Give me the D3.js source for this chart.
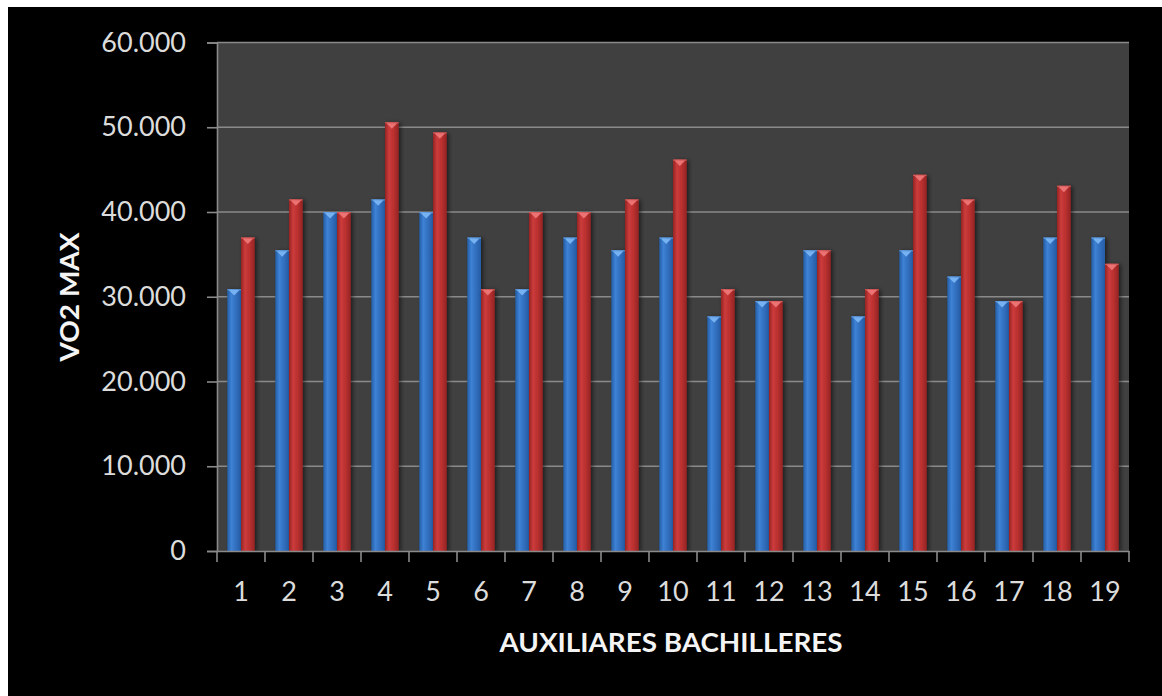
<!DOCTYPE html>
<html>
<head>
<meta charset="utf-8">
<script src="https://cdn.jsdelivr.net/npm/d3@7"></script>
<style>
  html, body { margin: 0; padding: 0; background: #ffffff; }
  svg { display: block; }
</style>
</head>
<body>
<svg id="chart" width="1162" height="696"></svg>
<script>
// Participants 1..19 and the two VO2 max measurements per participant
const categories = ["1","2","3","4","5","6","7","8","9","10","11","12","13","14","15","16","17","18","19"];
const seriesNames = ["Medición 1", "Medición 2"];
const serie1 = [30.9, 35.5, 40.0, 41.5, 40.0, 37.0, 30.9, 37.0, 35.5, 37.0, 27.7, 29.5, 35.5, 27.7, 35.5, 32.4, 29.5, 37.0, 37.0];
const serie2 = [37.0, 41.5, 40.0, 50.6, 49.4, 30.9, 40.0, 40.0, 41.5, 46.2, 30.9, 29.5, 35.5, 30.9, 44.4, 41.5, 29.5, 43.1, 33.9];
const yTicks = [0, 10, 20, 30, 40, 50, 60];
const yTitle = "VO2 MAX";
const xTitle = "AUXILIARES BACHILLERES";

const svg = d3.select("#chart");
const W = 1162, H = 696;
const plot = { left: 217, right: 1129, top: 42.5, bottom: 551 };
const font = "Lato, 'Open Sans', sans-serif";

// black chart canvas
svg.append("rect").attr("x", 8).attr("y", 7).attr("width", W - 8).attr("height", H - 7).attr("fill", "#000");

const defs = svg.append("defs");
function barGradient(id, edge, mid, light) {
  const g = defs.append("linearGradient").attr("id", id).attr("x1", 0).attr("x2", 1).attr("y1", 0).attr("y2", 0);
  g.append("stop").attr("offset", "0%").attr("stop-color", edge);
  g.append("stop").attr("offset", "30%").attr("stop-color", light);
  g.append("stop").attr("offset", "60%").attr("stop-color", mid);
  g.append("stop").attr("offset", "100%").attr("stop-color", edge);
}
barGradient("gBlue", "#255ea6", "#336fc0", "#3f82d4");
barGradient("gRed", "#962424", "#bc3030", "#cc3b3b");
const shadow = defs.append("filter").attr("id", "shadow").attr("x", "-50%").attr("y", "-10%").attr("width", "200%").attr("height", "120%");
shadow.append("feDropShadow").attr("dx", 2).attr("dy", 1).attr("stdDeviation", 2)
  .attr("flood-color", "#000").attr("flood-opacity", 0.55);

// plot area
svg.append("rect").attr("x", plot.left).attr("y", plot.top)
  .attr("width", plot.right - plot.left).attr("height", plot.bottom - plot.top)
  .attr("fill", "#404040");

const y = d3.scaleLinear().domain([0, 60]).range([plot.bottom, plot.top]);
const x0 = d3.scaleBand().domain(categories).range([plot.left, plot.right]).padding(0);
const x1 = d3.scaleBand().domain(seriesNames).range([0, x0.bandwidth()]).paddingInner(0).paddingOuter(0.75);

// gridlines
svg.append("g").selectAll("line").data(yTicks.filter(d => d > 0)).join("line")
  .attr("x1", plot.left).attr("x2", plot.right)
  .attr("y1", d => y(d)).attr("y2", d => y(d))
  .attr("stroke", "#8a8a8a").attr("stroke-width", 1.6);

// bars
const rows = categories.map((c, i) => ({ c, vals: [serie1[i], serie2[i]] }));
const colors = [
  { fill: "url(#gBlue)", bevel: "#7db8f5" },
  { fill: "url(#gRed)", bevel: "#f07a7a" }
];
const groups = svg.append("g").selectAll("g").data(rows).join("g")
  .attr("transform", d => `translate(${x0(d.c)},0)`);
const bars = groups.selectAll("g").data(d => d.vals.map((v, k) => ({ v, k }))).join("g")
  .attr("filter", "url(#shadow)");
bars.append("rect")
  .attr("x", d => x1(seriesNames[d.k]))
  .attr("y", d => y(d.v))
  .attr("width", x1.bandwidth())
  .attr("height", d => plot.bottom - y(d.v))
  .attr("fill", d => colors[d.k].fill);
// top bevel
bars.append("polygon")
  .attr("points", d => {
    const bx = x1(seriesNames[d.k]), bw = x1.bandwidth(), by = y(d.v);
    return [[bx + 1.5, by + 1], [bx + bw - 1.5, by + 1], [bx + bw / 2, by + 6.5]].map(p => p.join(",")).join(" ");
  })
  .attr("fill", d => colors[d.k].bevel).attr("opacity", 0.9);
bars.append("rect")
  .attr("x", d => x1(seriesNames[d.k]))
  .attr("y", d => y(d.v))
  .attr("width", x1.bandwidth()).attr("height", 1.2)
  .attr("fill", d => colors[d.k].bevel).attr("opacity", 0.6);

// axes
const axisColor = "#8a8a8a";
const yAxis = svg.append("g").attr("transform", `translate(${plot.left},0)`)
  .call(d3.axisLeft(y).tickValues(yTicks).tickSize(10).tickPadding(21)
    .tickFormat(d => d === 0 ? "0" : d3.format(".3f")(d)));
yAxis.select(".domain").attr("stroke", axisColor).attr("stroke-width", 1.6);
yAxis.selectAll(".tick line").attr("stroke", axisColor).attr("stroke-width", 1.6);
yAxis.selectAll(".tick text").attr("fill", "#dcdcdc").attr("font-family", font).attr("font-size", 27);

const xAxis = svg.append("g").attr("transform", `translate(0,${plot.bottom})`)
  .call(d3.axisBottom(x0).tickSize(0).tickPadding(31));
xAxis.select(".domain").attr("stroke", axisColor).attr("stroke-width", 1.6);
xAxis.selectAll(".tick text").attr("fill", "#dcdcdc").attr("font-family", font).attr("font-size", 27);
// category boundary tick marks
const bounds = categories.map(c => x0(c)).concat([plot.right]);
svg.append("g").selectAll("line").data(bounds).join("line")
  .attr("x1", d => d).attr("x2", d => d)
  .attr("y1", plot.bottom).attr("y2", plot.bottom + 11)
  .attr("stroke", axisColor).attr("stroke-width", 1.6);

// axis titles
svg.append("text").attr("x", 671).attr("y", 652).attr("text-anchor", "middle")
  .attr("fill", "#f4f4f4").attr("font-family", font).attr("font-weight", "bold").attr("font-size", 27)
  .attr("textLength", 343).attr("lengthAdjust", "spacingAndGlyphs")
  .text(xTitle);
svg.append("text").attr("transform", "translate(79,297) rotate(-90)").attr("text-anchor", "middle")
  .attr("fill", "#f4f4f4").attr("font-family", font).attr("font-weight", "bold").attr("font-size", 27)
  .attr("textLength", 129).attr("lengthAdjust", "spacingAndGlyphs")
  .text(yTitle);
</script>
</body>
</html>
